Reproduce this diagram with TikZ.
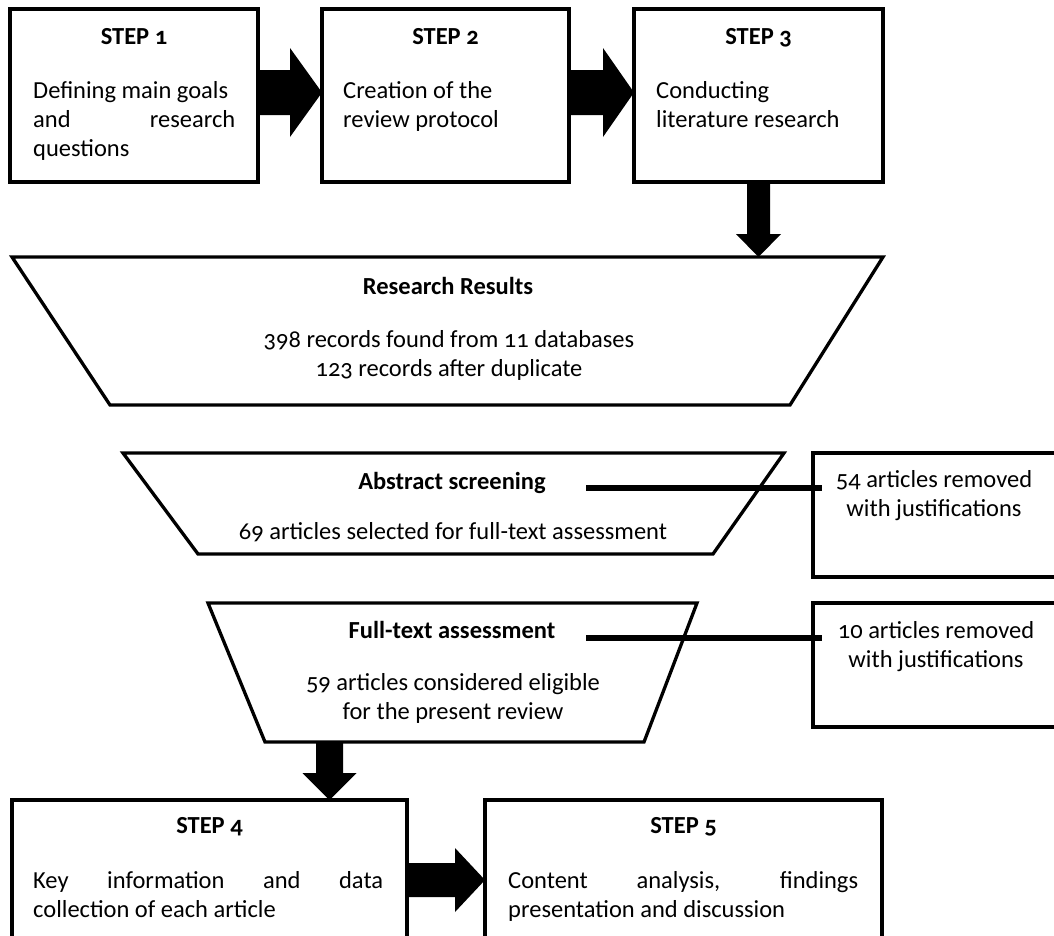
\documentclass[tikz,border=0pt]{standalone}
\usepackage{fontspec}
\setmainfont{Carlito}[Numbers=OldStyle]
\usetikzlibrary{calc}
\newcommand\harr[6]{% from, to, drop from top, shaft half, head half, head length
  \fill let \p1=(#1.north east), \p2=(#2.north west) in
  (\x1,\y1-#3-#4) -- (\x2-#6,\y1-#3-#4) -- (\x2-#6,\y1-#3-#5) -- (\x2,\y1-#3)
  -- (\x2-#6,\y1-#3+#5) -- (\x2-#6,\y1-#3+#4) -- (\x1,\y1-#3+#4) -- cycle;}
\newcommand\varr[5]{% from point, to point, shaft half, head half, head length
  \fill let \p1=(#1), \p2=(#2) in
  (\x1-#3,\y1) -- (\x1-#3,\y2+#5) -- (\x1-#4,\y2+#5) -- (\x1,\y2)
  -- (\x1+#4,\y2+#5) -- (\x1+#3,\y2+#5) -- (\x1+#3,\y1) -- cycle;}
\newcommand\spreadline[2]{\makebox[#1][s]{\spaceskip=0pt\xspaceskip=0pt #2}}
\begin{document}
\begin{tikzpicture}[x=1pt,y=-1pt,line join=miter]
\tikzset{
  box/.style={draw, line width=3.3pt, inner sep=0pt, outer sep=0pt, anchor=north west},
  trap/.style={draw, line width=3.3pt},
  lbl/.style={font=\fontsize{24.5}{29}\selectfont, inner sep=0pt},
  hd/.style={font=\fontsize{24.5}{29}\selectfont\bfseries, inner sep=0pt, anchor=base},
  body/.style={lbl, anchor=base west, align=flush left},
  ctr/.style={lbl, anchor=base, align=flush center, text width=560pt},
  conn/.style={line width=6pt},
}
\useasboundingbox (0,0) rectangle (1054,935);
\clip (0,0) rectangle (1054,935);

% top row
\node[box, minimum width=248pt, minimum height=173pt] (b1) at (10,9) {};
\node[box, minimum width=247pt, minimum height=173pt] (b2) at (322,9) {};
\node[box, minimum width=249pt, minimum height=173pt] (b3) at (634,9) {};
\node[hd] (s1) at (134,44) {STEP 1};
\node[hd] (s2) at (445.5,44) {STEP 2};
\node[hd] (s3) at (758.5,44) {STEP 3};
\node[body, text width=202pt] (t1) at (33,98)
  {Defining main goals\\\spreadline{202pt}{and research}\\questions};
\node[body, text width=210pt] (t2) at (343,98) {Creation of the\\review protocol};
\node[body, text width=210pt] (t3) at (656,98) {Conducting\\literature research};
\harr{b1}{b2}{83.5}{22.5}{44.5}{32}
\harr{b2}{b3}{83.5}{22.5}{44.5}{31}

% research results
\coordinate (r1a) at (12,257);
\coordinate (r1b) at (883,257);
\coordinate (r1c) at (790,405);
\coordinate (r1d) at (110,405);
\draw[trap] (r1a) -- (r1b) -- (r1c) -- (r1d) -- cycle;
\node[hd] (r1t) at (448,294) {Research Results};
\node[ctr] (r1x) at (449,347) {398 records found from 11 databases\\123 records after duplicate};
\varr{b3.south}{r1a -| b3.south}{11.5}{22.5}{23}

% abstract screening
\coordinate (r2a) at (123,453);
\coordinate (r2b) at (784,453);
\coordinate (r2c) at (713,554);
\coordinate (r2d) at (198,554);
\draw[trap] (r2a) -- (r2b) -- (r2c) -- (r2d) -- cycle;
\node[hd] (r2t) at (452,489) {Abstract screening};
\node[ctr] (r2x) at (453,539) {69 articles selected for full-text assessment};
\node[box, minimum width=260pt, minimum height=124pt] (x1) at (813,453) {};
\node[ctr, text width=230pt] (x1t) at (934,487) {54 articles removed\\with justifications};
\coordinate (c1) at (586,488);
\draw[conn, shorten >=-9pt] (c1) -- (c1 -| x1.west);

% full-text assessment
\coordinate (r3a) at (208,603);
\coordinate (r3b) at (697,603);
\coordinate (r3c) at (644,742);
\coordinate (r3d) at (265,742);
\draw[trap] (r3a) -- (r3b) -- (r3c) -- (r3d) -- cycle;
\node[hd] (r3t) at (452,638) {Full-text assessment};
\node[ctr] (r3x) at (453,690) {59 articles considered eligible\\for the present review};
\node[box, minimum width=260pt, minimum height=124pt] (x2) at (813,603) {};
\node[ctr, text width=230pt] (x2t) at (936,638) {10 articles removed\\with justifications};
\coordinate (c2) at (586,638);
\draw[conn, shorten >=-9pt] (c2) -- (c2 -| x2.west);

% bottom row
\node[box, minimum width=395pt, minimum height=200pt] (b4) at (12,800) {};
\node[box, minimum width=397pt, minimum height=200pt] (b5) at (485,800) {};
\node[hd] (s4) at (209.5,833) {STEP 4};
\node[hd] (s5) at (683.5,833) {STEP 5};
\node[body, text width=350pt] (t4) at (33,888)
  {\spreadline{350pt}{Key information and data}\\collection of each article};
\node[body, text width=350pt] (t5) at (508,888)
  {\spreadline{350pt}{Content analysis, findings}\\presentation and discussion};
\coordinate (d1) at (329.5,742);
\varr{d1}{d1 |- b4.north}{13.5}{27}{27}
\harr{b4}{b5}{80}{17}{32}{30}
\end{tikzpicture}
\end{document}
